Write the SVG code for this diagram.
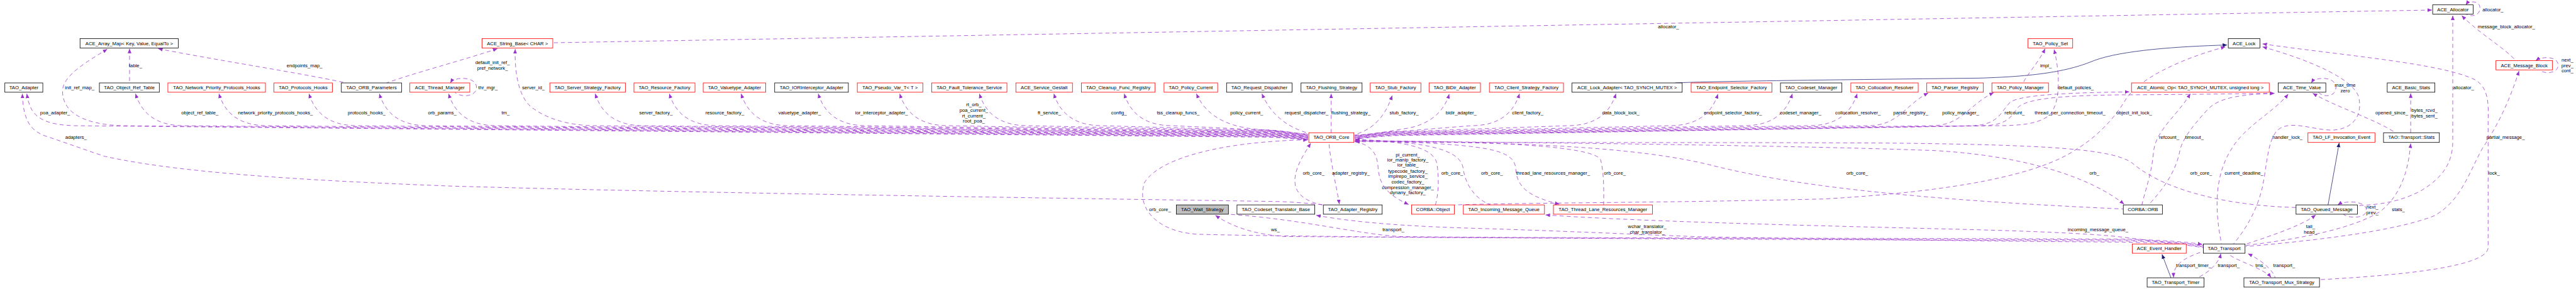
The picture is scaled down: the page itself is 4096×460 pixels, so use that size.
<svg xmlns="http://www.w3.org/2000/svg" width="4096" height="460" viewBox="0 0 4096 460">
<defs>
<style>
.n rect{fill:#fff;stroke:#000;stroke-width:1.4}
.r rect{stroke:#f00}
.g rect{fill:#bfbfbf}
text{font-family:"Liberation Sans",Arial,sans-serif;font-size:13px;fill:#000;text-anchor:middle}
.e path{fill:none;stroke:#9a32cd;stroke-width:1.3;stroke-dasharray:11,8;marker-start:url(#a)}
.e path.t{marker-start:none;marker-end:url(#a2)}
.i path{fill:none;stroke:#191970;stroke-width:1.3;marker-end:url(#b)}
</style>
<marker id="a" markerUnits="userSpaceOnUse" markerWidth="12" markerHeight="10" refX="12" refY="5" orient="auto-start-reverse" viewBox="0 0 12 10"><path d="M0,0 L12,5 L0,10 z" fill="#9a32cd"/></marker>
<marker id="a2" markerUnits="userSpaceOnUse" markerWidth="12" markerHeight="10" refX="12" refY="5" orient="auto" viewBox="0 0 12 10"><path d="M0,0 L12,5 L0,10 z" fill="#9a32cd"/></marker>
<marker id="b" markerUnits="userSpaceOnUse" markerWidth="12" markerHeight="10" refX="12" refY="5" orient="auto" viewBox="0 0 12 10"><path d="M0,0 L12,5 L0,10 z" fill="#191970"/></marker>
</defs>
<rect width="4096" height="460" fill="#fff"/>
<g transform="scale(0.5919)">
<g id="connectors">
<g class="i">
<path d="M4500,223 C4600,218 5000,214 5320,210 C5480,205 5560,190 5625,163 C5700,135 5850,125 5983,121"/>
<path d="M5832,747 L5808,684"/>
<path d="M6254,551 L6284,384"/>
</g>
<g class="e">
<path d="M6533,27 L1485,115"/>
<path d="M348,131 L348,223"/>
<path d="M425,131 C600,165 800,195 930,223"/>
<path d="M1336,131 C1250,160 1100,200 1039,223"/>
<path d="M5494,131 C5475,170 5445,200 5435,223"/>
<path d="M1210,223 C1220,205 1280,205 1280,235 C1280,262 1235,262 1222,248"/>
<!-- left bundle -->
<path d="M3214,252 C3235,300 3280,340 3380,348 C3450,352 3485,360 3514,360"/>
<path d="M3020,252 C3035,300 3070,338 3150,338 L3390,349.3 C3450,349.3 3485,361 3514,361"/>
<path d="M2831,252 C2846,300 2881,338 2961,338 L3390,350.6 C3450,350.6 3485,362 3514,362"/>
<path d="M2631,252 C2646,300 2681,338 2761,338 L3390,351.9 C3450,351.9 3485,363 3514,363"/>
<path d="M2417,252 C2432,300 2467,338 2547,338 L3390,353.2 C3450,353.2 3485,364 3514,364"/>
<path d="M2198,252 C2213,300 2248,338 2328,338 L3390,354.5 C3450,354.5 3485,365 3514,365"/>
<path d="M1991,252 C2006,300 2041,338 2121,338 L3390,355.8 C3450,355.8 3485,366 3514,366"/>
<path d="M1798,252 C1813,300 1848,338 1928,338 L3390,357.1 C3450,357.1 3485,367 3514,367"/>
<path d="M1599,252 C1614,300 1649,338 1729,338 L3390,358.4 C3450,358.4 3485,368 3514,368"/>
<path d="M1384,132 C1382,200 1395,265 1430,290 C1470,320 1530,338 1600,338 L3390,359.7 C3450,359.7 3485,369 3514,369"/>
<path d="M1205,252 C1220,300 1255,338 1335,338 L3390,361 C3450,361 3485,370 3514,370"/>
<path d="M1019,252 C1034,300 1069,338 1149,338 L3390,362.3 C3450,362.3 3485,371 3514,371"/>
<path d="M830,252 C845,300 880,338 960,338 L3390,363.6 C3450,363.6 3485,372 3514,372"/>
<path d="M588,252 C603,300 638,338 718,338 L3390,364.9 C3450,364.9 3485,373 3514,373"/>
<path d="M364,252 C379,300 414,338 494,338 L3390,366.2 C3450,366.2 3485,374 3514,374"/>
<path d="M288,132 C245,160 168,200 168,245 C168,300 220,335 330,338 L3390,367.5 C3450,367.5 3485,375 3514,375"/>
<path d="M72,252 C80,300 95,335 200,338 L3390,368.8 C3450,368.8 3485,376 3514,376"/>
<path d="M3390,252 C3410,300 3450,340 3514,358"/>
<path d="M3576,252 L3576,357"/>
<!-- right bundle -->
<path d="M3740,257 C3725,300 3700,345 3639,362"/>
<path d="M3893,253 C3880,300 3840,335 3780,345 C3720,355 3680,363 3639,363"/>
<path d="M4082,252 C4067,300 4032,338 3952,338 L3770,352.6 C3710,352.6 3670,364 3639,364"/>
<path d="M4341,252 C4326,300 4291,338 4211,338 L3770,353.9 C3710,353.9 3670,365 3639,365"/>
<path d="M4615,253 C4600,300 4565,338 4485,338 L3770,355.2 C3710,355.2 3670,366 3639,366"/>
<path d="M4815,252 C4800,300 4765,338 4685,338 L3770,356.5 C3710,356.5 3670,367 3639,367"/>
<path d="M4989,252 C4974,300 4939,338 4859,338 L3770,357.8 C3710,357.8 3670,368 3639,368"/>
<path d="M5180,250 C5120,280 5100,338 5020,338 L3770,359.1 C3710,359.1 3670,369 3639,369"/>
<path d="M5356,249 C5290,280 5270,338 5190,338 L3770,360.4 C3710,360.4 3670,370 3639,370"/>
<path d="M5518,133 C5535,200 5535,280 5505,310 C5475,335 5420,338 5360,338 L3770,361.7 C3710,361.7 3670,371 3639,371"/>
<path d="M5720,247 C5600,249 5430,252 5400,275 C5375,300 5370,335 5300,338 L3770,363 C3710,363 3670,372 3639,372"/>
<path d="M6110,251 C5950,253 5780,255 5700,255 C5560,257 5445,262 5420,290 C5400,320 5385,338 5320,338 L3770,364.3 C3710,364.3 3670,373 3639,373"/>
<!-- bottom of ORB core -->
<path d="M3521,385 C3500,420 3472,460 3480,500 C3488,530 3520,545 3553,551"/>
<path d="M3598,549 C3590,500 3575,440 3570,384"/>
<path d="M3784,550 C3730,525 3705,500 3702,450 C3700,410 3680,388 3639,381"/>
<path d="M3640,375 C3720,378 3850,385 3860,440 C3868,490 3862,530 3856,551"/>
<path d="M3640,376 C3800,380 3920,395 3930,450 C3938,510 3975,540 4004,551"/>
<path d="M4189,549 C4110,530 4075,505 4072,455 C4068,400 4000,388 3639,377"/>
<path d="M3640,378 C3900,380 4280,385 4300,430 C4310,470 4308,520 4308,551"/>
<path d="M5706,549 C5620,480 5450,420 5200,405 C4800,390 4000,382 3639,379"/>
<path d="M3640,380 C4100,382 4400,395 4600,445 C4800,495 5100,535 5704,562"/>
<path d="M3640,381 C4100,385 4700,382 5100,385 C5500,390 5680,400 5730,440 C5800,500 5950,552 6168,558"/>
<path d="M5978,126 C5850,160 5745,215 5712,265 C5680,320 5630,370 5580,400 C5480,470 5250,515 4900,535 C4500,545 4100,545 3907,551"/>
<path d="M60,252 C62,320 80,350 120,365 C180,385 220,400 280,420 C500,470 900,488 1200,500 C1700,515 2500,528 3440,542 C3500,545 3530,548 3555,551"/>
<!-- transport left bundle -->
<path d="M3513,376 C3300,380 3120,420 3075,490 C3050,560 3110,625 3220,630 C3500,638 4500,643 5700,648 C5820,650 5880,655 5919,662"/>
<path d="M3265,579 C3310,610 3370,630 3450,636 C4000,640 5000,643 5700,645 C5820,648 5880,654 5919,660"/>
<path d="M5916,657 C5870,650 5800,645 5700,643 C5000,640 4000,640 3760,636 C3650,630 3500,590 3300,576"/>
<path d="M3536,579 C3650,600 3800,610 4000,615 C4300,625 4450,633 4580,637 C5000,645 5500,650 5700,651 C5820,653 5880,658 5919,664"/>
<path d="M4152,578 C4400,595 4800,605 5200,615 C5500,622 5650,630 5720,640 C5820,652 5880,660 5919,666"/>
<!-- right cluster -->
<path d="M5884,252 C5850,310 5790,350 5785,410 C5780,470 5760,520 5754,551"/>
<path d="M6110,251 C6020,254 5960,262 5930,295 C5880,350 5860,380 5855,410 C5840,480 5790,530 5772,551"/>
<path d="M6147,253 C6110,300 6030,340 5995,400 C5950,470 5948,560 5968,656"/>
<path d="M6078,126 C6200,160 6320,210 6336,260 C6350,320 6310,350 6262,350 C6210,348 6160,325 6125,345 C6095,365 6092,420 6082,480 C6070,560 6030,620 6000,656"/>
<path d="M6078,118 C6300,150 6560,170 6650,215 C6690,240 6684,290 6684,330 L6684,665 C6684,705 6550,735 6232,752"/>
<path d="M6589,42 L6589,380 C6589,440 6560,480 6500,515 C6440,545 6390,550 6334,553"/>
<path d="M6613,42 C6660,90 6730,130 6758,163"/>
<path d="M6624,13 C6632,2 6662,0 6662,22 C6662,42 6640,46 6626,39"/>
<path d="M6812,163 C6830,150 6872,152 6872,175 C6872,198 6835,200 6822,188"/>
<path d="M6767,191 C6745,260 6715,330 6668,400 C6630,470 6610,540 6540,580 C6460,612 6300,640 6033,663"/>
<path d="M6476,386 C6470,450 6455,520 6395,568 C6330,610 6200,640 6033,660"/>
<path d="M6476,251 L6476,357"/>
<path d="M6213,251 C6280,290 6380,320 6435,357"/>
<path d="M6209,223 C6220,205 6275,205 6275,235 C6275,262 6240,262 6228,248"/>
<path d="M6280,551 C6300,538 6357,540 6357,565 C6357,588 6310,588 6295,576"/>
<path d="M6221,578 C6180,610 6080,640 6033,657"/>
<path d="M5839,746 C5838,715 5860,695 5919,676"/>
<path d="M5966,682 C5960,710 5930,735 5903,747"/>
<path d="M6101,746 C6080,720 6000,700 5985,681"/>
<path d="M6039,682 C6075,700 6105,725 6112,747"/>
</g>
<g id="edge-labels">
<text x="214" y="240">init_ref_map_</text>
<text x="364" y="180">table_</text>
<text x="818" y="180">endpoints_map_</text>
<text x="148" y="308">poa_adapter_</text>
<text x="204" y="374">adapters_</text>
<text x="537" y="308">object_ref_table_</text>
<text x="740" y="308">network_priority_protocols_hooks_</text>
<text x="985" y="308">protocols_hooks_</text>
<text x="1188" y="308">orb_params_</text>
<text x="1323" y="172">default_init_ref_</text>
<text x="1323" y="187">pref_network_</text>
<text x="1311" y="240">thr_mgr_</text>
<text x="1433" y="240">server_id_</text>
<text x="1358" y="308">tm_</text>
<text x="1762" y="308">server_factory_</text>
<text x="1947" y="308">resource_factory_</text>
<text x="2148" y="308">valuetype_adapter_</text>
<text x="2368" y="308">ior_interceptor_adapter_</text>
<text x="2616" y="286">rt_orb_</text>
<text x="2616" y="301">poa_current_</text>
<text x="2616" y="316">rt_current_</text>
<text x="2616" y="330">root_poa_</text>
<text x="2819" y="308">ft_service_</text>
<text x="3006" y="308">config_</text>
<text x="3165" y="308">tss_cleanup_funcs_</text>
<text x="3349" y="308">policy_current_</text>
<text x="3510" y="308">request_dispatcher_</text>
<text x="3629" y="308">flushing_strategy_</text>
<text x="3772" y="308">stub_factory_</text>
<text x="3925" y="308">bidir_adapter_</text>
<text x="4104" y="308">client_factory_</text>
<text x="4354" y="308">data_block_lock_</text>
<text x="4482" y="76">allocator_</text>
<text x="4655" y="308">endpoint_selector_factory_</text>
<text x="4837" y="308">codeset_manager_</text>
<text x="4991" y="308">collocation_resolver_</text>
<text x="5133" y="308">parser_registry_</text>
<text x="5267" y="308">policy_manager_</text>
<text x="5412" y="308">refcount_</text>
<text x="5561" y="308">thread_per_connection_timeout_</text>
<text x="5733" y="308">object_init_lock_</text>
<text x="5496" y="180">impl_</text>
<text x="5576" y="240">default_policies_</text>
<text x="6697" y="30">allocator_</text>
<text x="6733" y="76">message_block_allocator_</text>
<text x="6897" y="165">next_</text>
<text x="6897" y="180">prev_</text>
<text x="6897" y="194">cont_</text>
<text x="6300" y="233">max_time</text>
<text x="6300" y="248">zero</text>
<text x="6618" y="240">allocator_</text>
<text x="5827" y="374">refcount_</text>
<text x="5895" y="374">timeout_</text>
<text x="6145" y="374">handler_lock_</text>
<text x="6731" y="374">partial_message_</text>
<text x="6425" y="308">opened_since_</text>
<text x="6513" y="301">bytes_rcvd_</text>
<text x="6513" y="316">bytes_sent_</text>
<text x="3116" y="568">orb_core_</text>
<text x="3426" y="622">ws_</text>
<text x="3529" y="470">orb_core_</text>
<text x="3629" y="470">adapter_registry_</text>
<text x="3782" y="420">pi_current_</text>
<text x="3782" y="434">ior_manip_factory_</text>
<text x="3782" y="448">ior_table_</text>
<text x="3782" y="464">typecode_factory_</text>
<text x="3782" y="478">implrepo_service_</text>
<text x="3782" y="493">codec_factory_</text>
<text x="3782" y="508">compression_manager_</text>
<text x="3782" y="522">dynany_factory_</text>
<text x="3901" y="470">orb_core_</text>
<text x="4008" y="470">orb_core_</text>
<text x="4172" y="470">thread_lane_resources_manager_</text>
<text x="4338" y="470">orb_core_</text>
<text x="3743" y="622">transport_</text>
<text x="4425" y="614">wchar_translator_</text>
<text x="4425" y="629">char_translator_</text>
<text x="4989" y="470">orb_core_</text>
<text x="5626" y="470">orb_</text>
<text x="5636" y="621">incoming_message_queue_</text>
<text x="5913" y="470">orb_core_</text>
<text x="6028" y="470">current_deadline_</text>
<text x="6700" y="470">lock_</text>
<text x="6373" y="561">next_</text>
<text x="6373" y="576">prev_</text>
<text x="6443" y="568">stats_</text>
<text x="6207" y="614">tail_</text>
<text x="6207" y="629">head_</text>
<text x="5893" y="718">transport_timer_</text>
<text x="5987" y="718">transport_</text>
<text x="6073" y="718">tms_</text>
<text x="6136" y="718">transport_</text>
</g>
</g>
<g id="n1" class="n"><rect x="6535" y="13" width="109" height="25"/><text x="6589.5" y="30">ACE_Allocator</text></g>
<g id="n2" class="n"><rect x="215" y="104" width="264" height="25"/><text x="347" y="121">ACE_Array_Map&lt; Key, Value, EqualTo &gt;</text></g>
<g id="n3" class="n r"><rect x="1295" y="104" width="190" height="25"/><text x="1390" y="121">ACE_String_Base&lt; CHAR &gt;</text></g>
<g id="n4" class="n r"><rect x="5448" y="104" width="120" height="25"/><text x="5508" y="121">TAO_Policy_Set</text></g>
<g id="n5" class="n"><rect x="5986" y="104" width="85" height="25"/><text x="6028.5" y="121">ACE_Lock</text></g>
<g id="n6" class="n r"><rect x="6705" y="163" width="152" height="25"/><text x="6781" y="180">ACE_Message_Block</text></g>
<g id="n7" class="n"><rect x="13" y="223" width="102" height="25"/><text x="64" y="240">TAO_Adapter</text></g>
<g id="n8" class="n"><rect x="267" y="223" width="161" height="25"/><text x="347.5" y="240">TAO_Object_Ref_Table</text></g>
<g id="n9" class="n r"><rect x="451" y="223" width="262" height="25"/><text x="582" y="240">TAO_Network_Priority_Protocols_Hooks</text></g>
<g id="n10" class="n r"><rect x="736" y="223" width="157" height="25"/><text x="814.5" y="240">TAO_Protocols_Hooks</text></g>
<g id="n11" class="n"><rect x="917" y="223" width="162" height="25"/><text x="998" y="240">TAO_ORB_Parameters</text></g>
<g id="n12" class="n r"><rect x="1101" y="223" width="161" height="25"/><text x="1181.5" y="240">ACE_Thread_Manager</text></g>
<g id="n13" class="n r"><rect x="1477" y="223" width="203" height="25"/><text x="1578.5" y="240">TAO_Server_Strategy_Factory</text></g>
<g id="n14" class="n r"><rect x="1703" y="223" width="164" height="25"/><text x="1785" y="240">TAO_Resource_Factory</text></g>
<g id="n15" class="n r"><rect x="1889" y="223" width="168" height="25"/><text x="1973" y="240">TAO_Valuetype_Adapter</text></g>
<g id="n16" class="n"><rect x="2081" y="223" width="198" height="25"/><text x="2180" y="240">TAO_IORInterceptor_Adapter</text></g>
<g id="n17" class="n r"><rect x="2303" y="223" width="176" height="25"/><text x="2391" y="240">TAO_Pseudo_Var_T&lt; T &gt;</text></g>
<g id="n18" class="n r"><rect x="2503" y="223" width="202" height="25"/><text x="2604" y="240">TAO_Fault_Tolerance_Service</text></g>
<g id="n19" class="n r"><rect x="2729" y="223" width="152" height="25"/><text x="2805" y="240">ACE_Service_Gestalt</text></g>
<g id="n20" class="n r"><rect x="2905" y="223" width="198" height="25"/><text x="3004" y="240">TAO_Cleanup_Func_Registry</text></g>
<g id="n21" class="n r"><rect x="3127" y="223" width="144" height="25"/><text x="3199" y="240">TAO_Policy_Current</text></g>
<g id="n22" class="n"><rect x="3295" y="223" width="176" height="25"/><text x="3383" y="240">TAO_Request_Dispatcher</text></g>
<g id="n23" class="n"><rect x="3495" y="223" width="164" height="25"/><text x="3577" y="240">TAO_Flushing_Strategy</text></g>
<g id="n24" class="n r"><rect x="3681" y="223" width="136" height="25"/><text x="3749" y="240">TAO_Stub_Factory</text></g>
<g id="n25" class="n r"><rect x="3839" y="223" width="138" height="25"/><text x="3908" y="240">TAO_BiDir_Adapter</text></g>
<g id="n26" class="n r"><rect x="4001" y="223" width="199" height="25"/><text x="4100.5" y="240">TAO_Client_Strategy_Factory</text></g>
<g id="n27" class="n"><rect x="4223" y="223" width="296" height="25"/><text x="4371" y="240">ACE_Lock_Adapter&lt; TAO_SYNCH_MUTEX &gt;</text></g>
<g id="n28" class="n r"><rect x="4543" y="223" width="217" height="25"/><text x="4651.5" y="240">TAO_Endpoint_Selector_Factory</text></g>
<g id="n29" class="n"><rect x="4783" y="223" width="165" height="25"/><text x="4865.5" y="240">TAO_Codeset_Manager</text></g>
<g id="n30" class="n r"><rect x="4972" y="223" width="181" height="25"/><text x="5062.5" y="240">TAO_Collocation_Resolver</text></g>
<g id="n31" class="n r"><rect x="5176" y="223" width="152" height="25"/><text x="5252" y="240">TAO_Parser_Registry</text></g>
<g id="n32" class="n r"><rect x="5351" y="223" width="152" height="25"/><text x="5427" y="240">TAO_Policy_Manager</text></g>
<g id="n33" class="n r"><rect x="5726" y="223" width="370" height="25"/><text x="5911" y="240">ACE_Atomic_Op&lt; TAO_SYNCH_MUTEX, unsigned long &gt;</text></g>
<g id="n34" class="n"><rect x="6120" y="223" width="128" height="25"/><text x="6184" y="240">ACE_Time_Value</text></g>
<g id="n35" class="n"><rect x="6413" y="223" width="128" height="25"/><text x="6477" y="240">ACE_Basic_Stats</text></g>
<g id="n36" class="n r"><rect x="3516" y="357" width="121" height="26"/><text x="3576.5" y="374">TAO_ORB_Core</text></g>
<g id="n37" class="n r"><rect x="6200" y="357" width="180" height="26"/><text x="6290" y="374">TAO_LF_Invocation_Event</text></g>
<g id="n38" class="n"><rect x="6403" y="357" width="150" height="26"/><text x="6478" y="374">TAO::Transport::Stats</text></g>
<g id="n39" class="n g"><rect x="3160" y="551" width="140" height="25"/><text x="3230" y="568">TAO_Wait_Strategy</text></g>
<g id="n40" class="n"><rect x="3323" y="551" width="209" height="25"/><text x="3427.5" y="568">TAO_Codeset_Translator_Base</text></g>
<g id="n41" class="n"><rect x="3555" y="551" width="158" height="25"/><text x="3634" y="568">TAO_Adapter_Registry</text></g>
<g id="n42" class="n r"><rect x="3792" y="551" width="115" height="25"/><text x="3849.5" y="568">CORBA::Object</text></g>
<g id="n43" class="n r"><rect x="3931" y="551" width="218" height="25"/><text x="4040" y="568">TAO_Incoming_Message_Queue</text></g>
<g id="n44" class="n r"><rect x="4173" y="551" width="266" height="25"/><text x="4306" y="568">TAO_Thread_Lane_Resources_Manager</text></g>
<g id="n45" class="n"><rect x="5704" y="551" width="105" height="25"/><text x="5756.5" y="568">CORBA::ORB</text></g>
<g id="n46" class="n"><rect x="6168" y="551" width="165" height="25"/><text x="6250.5" y="568">TAO_Queued_Message</text></g>
<g id="n47" class="n r"><rect x="5728" y="656" width="145" height="25"/><text x="5800.5" y="673">ACE_Event_Handler</text></g>
<g id="n48" class="n"><rect x="5919" y="656" width="112" height="25"/><text x="5975" y="673">TAO_Transport</text></g>
<g id="n49" class="n"><rect x="5768" y="747" width="153" height="25"/><text x="5844.5" y="764">TAO_Transport_Timer</text></g>
<g id="n50" class="n"><rect x="6028" y="747" width="203" height="25"/><text x="6129.5" y="764">TAO_Transport_Mux_Strategy</text></g>
</g>
</svg>
